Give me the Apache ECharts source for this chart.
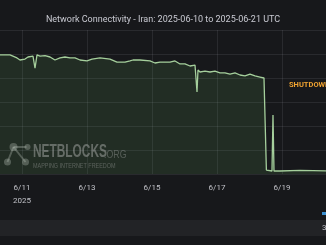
<!DOCTYPE html>
<html>
<head>
<meta charset="utf-8">
<script src="https://cdn.jsdelivr.net/npm/echarts@6/dist/echarts.min.js"></script>
<style>
html,body{margin:0;padding:0;background:#17181b;}
#chart{width:326px;height:245px;}
</style>
</head>
<body>
<div id="chart"></div>
<script>
// x values: days since 2025-06-09 00:00 UTC
const dayOffsets = [1.0, 1.323, 1.631, 1.846, 1.938, 2.092, 2.185, 2.338, 2.400, 2.462, 2.554, 2.708, 2.862, 3.015, 3.169, 3.323, 3.477, 3.631, 3.785, 4.0, 4.154, 4.4, 4.708, 4.923, 5.169, 5.323, 5.415, 5.631, 5.938, 6.092, 6.246, 6.4, 6.554, 6.708, 6.862, 7.015, 7.169, 7.323, 7.385, 7.415, 7.477, 7.631, 7.785, 7.938, 8.092, 8.246, 8.4, 8.554, 8.708, 8.862, 9.015, 9.169, 9.323, 9.446, 9.50, 9.52, 9.538, 9.692, 9.723, 9.754, 9.938, 10.554, 11.5];
// connectivity (% of ordinary levels)
const connectivity = [99.0, 99.2, 99.2, 96.7, 95.0, 95.8, 97.5, 98.3, 88.3, 99.2, 98.3, 98.6, 97.5, 95.0, 96.7, 97.5, 96.7, 96.7, 95.0, 94.2, 95.8, 96.7, 95.8, 93.3, 93.3, 94.2, 95.0, 95.0, 94.2, 92.5, 93.3, 93.3, 93.3, 94.2, 91.7, 91.7, 90.0, 90.8, 68.3, 86.7, 85.0, 85.8, 85.0, 85.8, 84.2, 84.2, 83.3, 84.2, 82.5, 81.7, 83.3, 81.7, 80.8, 80.0, 80.0, 3.3, 2.5, 2.5, 49.2, 2.5, 2.5, 3.0, 2.5];
const xTickDays = [0, 2, 4, 6, 8, 10];
const xTickLabels = ['6/9', '6/11\n2025', '6/13', '6/15', '6/17', '6/19'];
const shutdownStart = [9.63, 65];
const shutdownEnd = [11.6, 65];
const titleText = 'Network Connectivity - Iran: 2025-06-10 to 2025-06-21 UTC';

const chart = echarts.init(document.getElementById('chart'), null, {renderer: 'canvas'});
chart.setOption({
  backgroundColor: '#17181b',
  animation: false,
  title: {
    text: titleText,
    left: 'center',
    top: 10,
    textStyle: {color: '#c9cad2', fontSize: 9, fontWeight: 'normal', fontFamily: 'Roboto'}
  },
  grid: {left: -43, right: 0, top: 30, bottom: 71, containLabel: false, outerBoundsMode: 'none'},
  xAxis: {
    type: 'value',
    min: 0,
    max: 11.354,
    interval: 2,
    axisLine: {show: false},
    axisTick: {show: false},
    splitLine: {show: true, lineStyle: {color: 'rgba(204,204,220,0.10)', width: 1}},
    axisLabel: {
      showMaxLabel: false,
      margin: 7,
      color: '#c0c1c7',
      fontSize: 8,
      lineHeight: 13,
      fontFamily: 'Roboto',
      formatter: function (v) {
        const i = xTickDays.indexOf(v);
        return i >= 0 ? xTickLabels[i] : '';
      }
    }
  },
  yAxis: {
    type: 'value',
    min: 0,
    max: 120,
    interval: 20,
    axisLabel: {show: false},
    axisLine: {show: false},
    axisTick: {show: false},
    splitLine: {show: true, lineStyle: {color: 'rgba(204,204,220,0.10)', width: 1}}
  },
  series: [{
    type: 'line',
    data: dayOffsets.map((d, i) => [d, connectivity[i]]),
    showSymbol: false,
    lineStyle: {color: '#a5cf9c', width: 1.3},
    areaStyle: {color: 'rgba(115,191,105,0.18)'},
    markLine: {
      silent: true,
      symbol: ['arrow', 'none'],
      symbolSize: 5,
      lineStyle: {color: '#d6283c', width: 1, type: 'solid'},
      label: {show: false},
      data: [[{coord: shutdownStart}, {coord: shutdownEnd}]]
    }
  }],
  graphic: [
    {type: 'text', left: 289, top: 81, z: 10, style: {text: 'SHUTDOWN', fill: '#f0a331', font: 'bold 7.5px Roboto'}},
    // NetBlocks watermark
    {type: 'group', left: 4, top: 143, z: 5, children: [
      {type: 'line', shape: {x1: 9, y1: 7, x2: 22, y2: 7}, style: {stroke: 'rgba(190,190,190,0.35)', lineWidth: 2}},
      {type: 'line', shape: {x1: 9, y1: 7, x2: 3, y2: 22}, style: {stroke: 'rgba(190,190,190,0.35)', lineWidth: 2}},
      {type: 'line', shape: {x1: 9, y1: 7, x2: 21, y2: 22}, style: {stroke: 'rgba(190,190,190,0.35)', lineWidth: 2}},
      {type: 'circle', shape: {cx: 9, cy: 7, r: 4}, style: {fill: 'rgba(190,190,190,0.35)'}},
      {type: 'circle', shape: {cx: 23, cy: 7, r: 3}, style: {fill: 'rgba(190,190,190,0.35)'}},
      {type: 'circle', shape: {cx: 3, cy: 22, r: 3.5}, style: {fill: 'rgba(190,190,190,0.35)'}},
      {type: 'circle', shape: {cx: 21, cy: 22, r: 3.5}, style: {fill: 'rgba(190,190,190,0.35)'}}
    ]},
    {type: 'text', x: 33, y: 143, scaleX: 0.66, z: 5, style: {text: 'NETBLOCKS', fill: 'rgba(195,195,195,0.42)', font: 'bold 18px "Liberation Sans"'}},
    {type: 'text', x: 104, y: 149, scaleX: 0.8, z: 5, style: {text: '.ORG', fill: 'rgba(195,195,195,0.32)', font: '11px "Liberation Sans"'}},
    {type: 'text', x: 33, y: 162, scaleX: 0.68, z: 5, style: {text: 'MAPPING INTERNET FREEDOM', fill: 'rgba(195,195,195,0.35)', font: '8px "Liberation Sans"'}},
    // legend strip (cropped)
    {type: 'rect', left: 0, top: 220, shape: {width: 326, height: 16}, style: {fill: '#222326'}},
    {type: 'rect', left: 322, top: 212, shape: {width: 4, height: 3}, style: {fill: '#3a8fd0'}},
    {type: 'text', left: 322, top: 224, style: {text: '3', fill: '#c0c1c7', font: '8px Roboto'}}
  ]
});
</script>
</body>
</html>
